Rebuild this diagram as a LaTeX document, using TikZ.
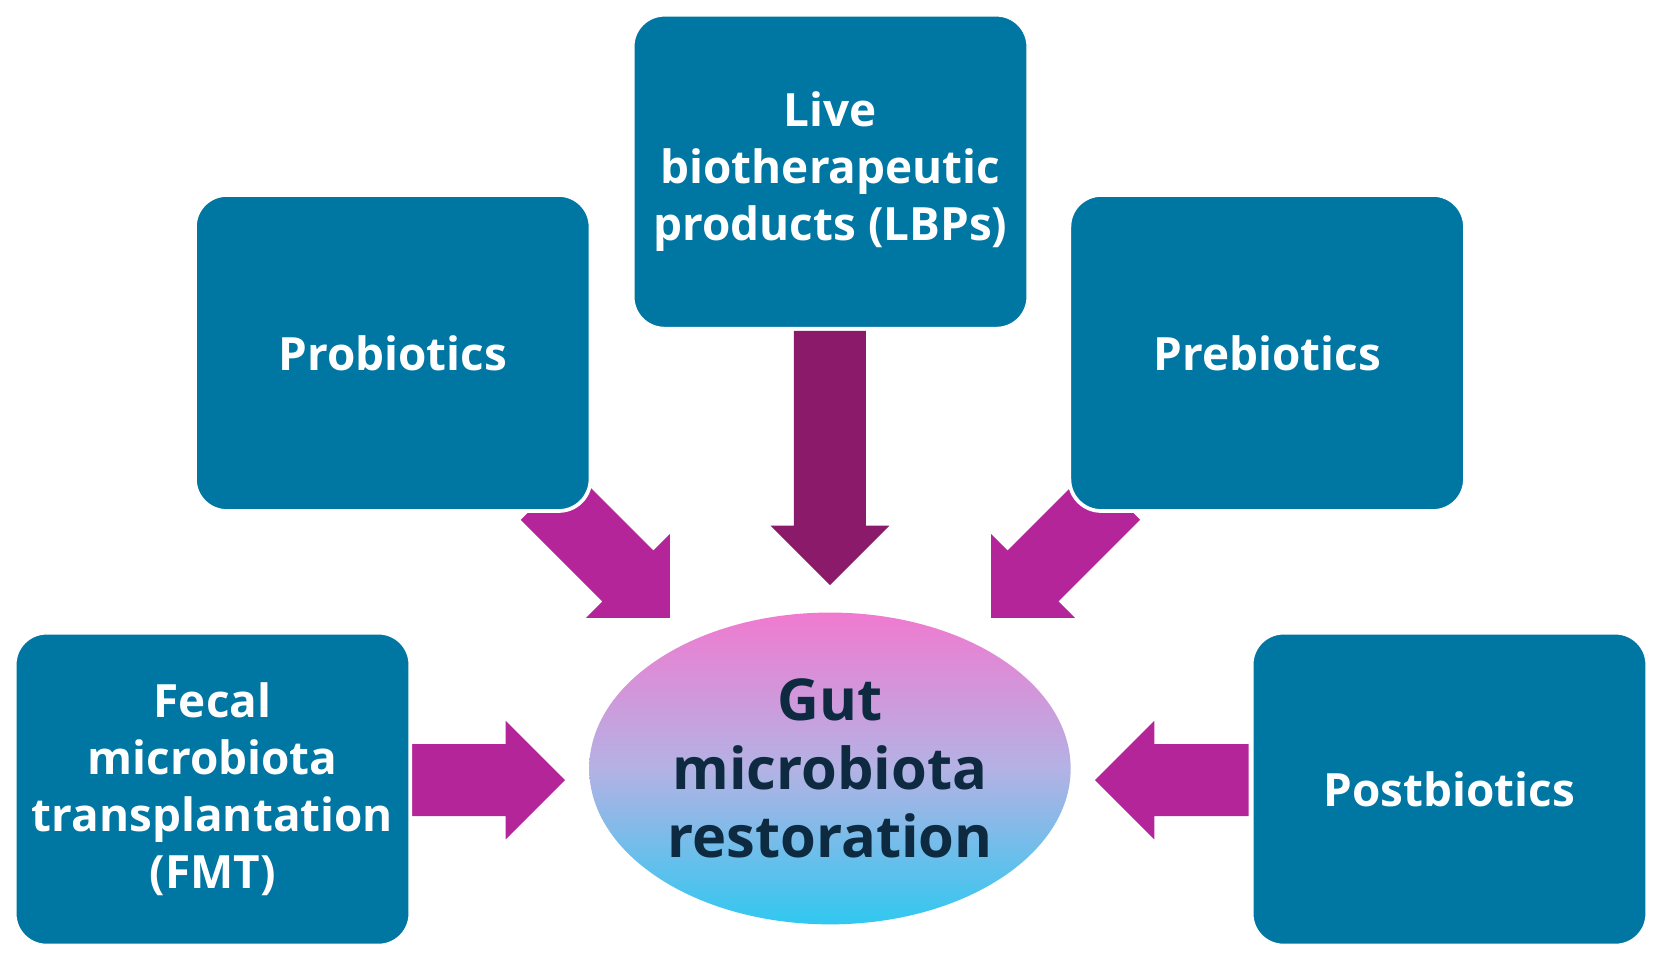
\documentclass[tikz,border=0pt]{standalone}
\usepackage{fontspec}
\setmainfont{Open Sans}
\usetikzlibrary{shapes.geometric}
\begin{document}
\begin{tikzpicture}[x=0.01cm,y=-0.01cm,
  box/.style={draw=white,line width=1pt,fill=boxblue,rounded corners=0.3cm,text=white,font=\bfseries\fontsize{12.3}{15.3}\selectfont,align=center,inner sep=0pt},
  arr/.style={fill=arrpink,draw=none}]
\definecolor{boxblue}{HTML}{0076A3}
\definecolor{arrpink}{HTML}{B5259A}
\definecolor{arrdark}{HTML}{8B1A6B}
\definecolor{gutink}{HTML}{0D2A40}
\definecolor{gtop}{HTML}{F07AD0}
\definecolor{gmid}{HTML}{B4B2E4}
\definecolor{gbot}{HTML}{30C8F0}
\useasboundingbox (0,0) rectangle (1568,906);
\newcommand{\myarrow}[4]{%
  \begin{scope}[shift={#1},rotate=#2,x=0.01cm,y=0.01cm]
   \fill[#4] (0,0) -- (-56,56) -- (-56,34) -- (-#3,34) -- (-#3,-34) -- (-56,-34) -- (-56,-56) -- cycle;
  \end{scope}}
\myarrow{(783,552)}{-90}{240}{arrdark}
\myarrow{(533,736)}{0}{145}{arrpink}
\myarrow{(1033,736)}{180}{145}{arrpink}
\myarrow{(632,583)}{-45}{165}{arrpink}
\myarrow{(935,583)}{-135}{165}{arrpink}
\node[box,minimum width=3.73cm,minimum height=2.96cm] (lbp) at (783.5,162) {Live\\biotherapeutic\\products (LBPs)};
\node[box,minimum width=3.73cm,minimum height=2.98cm] (pro) at (370.5,333) {Probiotics};
\node[box,minimum width=3.73cm,minimum height=2.98cm] (pre) at (1195.5,333) {Prebiotics};
\node[box,minimum width=3.73cm,minimum height=2.95cm] (fmt) at (200.5,744.5) {Fecal\\microbiota\\transplantation\\(FMT)};
\node[box,minimum width=3.73cm,minimum height=2.95cm] (post) at (1367.5,744.5) {Postbiotics};
\node[ellipse,minimum width=4.54cm,minimum height=2.94cm,inner sep=0pt,
  top color=gtop,bottom color=gbot,middle color=gmid,
  text=gutink,font=\bfseries\fontsize{15.5}{18.3}\selectfont,align=center] (gut) at (783,725) {Gut\\microbiota\\restoration};
\end{tikzpicture}
\end{document}
